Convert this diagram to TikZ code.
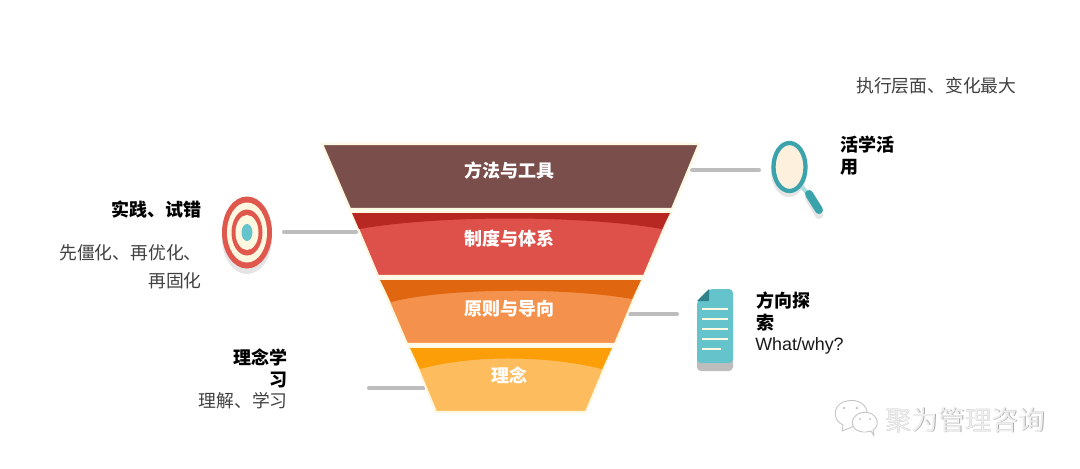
\documentclass[tikz,border=0pt]{standalone}
\usepackage{fontspec}
\setmainfont{Noto Sans CJK SC}
\newfontfamily\latinfont{Liberation Sans}
\newcommand{\pxfont}[2]{\fontsize{#1}{#2}\selectfont}
\definecolor{cream}{HTML}{FFF8E1}
\definecolor{brownL}{HTML}{7A4E4B}
\definecolor{redD}{HTML}{B82823}
\definecolor{redL}{HTML}{DE514A}
\definecolor{orgD}{HTML}{E0670F}
\definecolor{orgL}{HTML}{F4924D}
\definecolor{ambD}{HTML}{FB9E08}
\definecolor{ambL}{HTML}{FDBD5E}
\definecolor{connGrey}{HTML}{BDBDBD}
\definecolor{shadowGrey}{HTML}{E4E4E4}
\definecolor{teal}{HTML}{3BA3AB}
\definecolor{tealL}{HTML}{65C3CB}
\definecolor{tealP}{HTML}{A8DEE0}
\definecolor{lensFill}{HTML}{FDF0DC}
\definecolor{targetRed}{HTML}{E0574E}
\definecolor{bodyGrey}{HTML}{404040}
\tikzset{
  x=0.75pt,y=-0.75pt,
  layerEdge/.style={draw=cream,line width=1.6pt,line join=miter},
  link/.style={draw=connGrey,line width=3pt,line cap=round},
  inLabel/.style={text=white,font=\bfseries\pxfont{13.5}{16},inner sep=0pt},
  headR/.style={text=black,font=\bfseries\pxfont{13.5}{16.5},align=right,inner sep=0pt},
  headL/.style={text=black,font=\bfseries\pxfont{13.5}{16.5},align=left,inner sep=0pt},
  bodyT/.style={text=bodyGrey,font=\pxfont{13.35}{16.5},inner sep=0pt},
  docLine/.style={draw=cream,line width=2pt},
  bubble/.style={draw=black!22,line width=0.7pt,fill=white,line join=round},
  mark1/.style={text=black!32,font=\pxfont{20}{24},inner sep=0pt},
  mark2/.style={text=black!7,font=\pxfont{20}{24},inner sep=0pt},
}
\begin{document}
\begin{tikzpicture}
\useasboundingbox (0,0) rectangle (1080,468);
\fill[white] (0,0) rectangle (1080,468);

% connectors
\coordinate (c1a) at (692,170); \coordinate (c1b) at (759,170);
\coordinate (c2a) at (284,232); \coordinate (c2b) at (356,232);
\coordinate (c3a) at (630,314); \coordinate (c3b) at (677,314);
\coordinate (c4a) at (369,388); \coordinate (c4b) at (424,388);
\draw[link] (c1a) -- (c1b);
\draw[link] (c2a) -- (c2b);
\draw[link] (c3a) -- (c3b);
\draw[link] (c4a) -- (c4b);

% funnel
\draw[layerEdge,fill=brownL] (322,144) -- (699,144) -- (672,209) -- (350,209) -- cycle;

\draw[layerEdge,fill=redL] (351,212) -- (671,212) -- (644,276) -- (378,276) -- cycle;
\fill[redD] (352,213) -- (670,213) -- (662,229) .. controls (580,215) and (440,215) .. (359,229) -- cycle;

\draw[layerEdge,fill=orgL] (379,279) -- (642,279) -- (615,344) -- (407,344) -- cycle;
\fill[orgD] (380,280) -- (641,280) -- (632,299) .. controls (570,288) and (450,287) .. (391,302) -- cycle;

\draw[layerEdge,fill=ambL] (409,347) -- (613,347) -- (586,412) -- (436,412) -- cycle;
\fill[ambD] (410,348) -- (612,348) -- (602,369) .. controls (550,356) and (475,354) .. (420,369) -- cycle;

\node[inLabel] (t1) at (509,171) {方法与工具};
\node[inLabel] (t2) at (509,239) {制度与体系};
\node[inLabel] (t3) at (509,309) {原则与导向};
\node[inLabel] (t4) at (509,375) {理念};

% target
\fill[shadowGrey] (247,238) ellipse [x radius=25,y radius=36];
\fill[targetRed] (247,232.5) ellipse [x radius=25,y radius=36];
\fill[cream] (247,232.5) ellipse [x radius=20,y radius=30];
\fill[targetRed] (247,232.5) ellipse [x radius=15.5,y radius=23];
\fill[cream] (247,232.5) ellipse [x radius=11.5,y radius=17.5];
\fill[tealL] (247,232.5) ellipse [x radius=5.5,y radius=8.5];

% magnifier
\fill[shadowGrey] (789,171) ellipse [x radius=18,y radius=26];
\draw[shadowGrey,line width=6pt,line cap=round] (809,198) -- (819,215);
\draw[tealP,line width=3pt] (802,187) -- (808,194);
\draw[teal,line width=6pt,line cap=round] (809,194) -- (819,210);
\draw[teal,line width=3.2pt,fill=lensFill] (789.5,167) ellipse [x radius=16,y radius=24];

% document
\fill[connGrey,rounded corners=3pt] (697,320) rectangle (733,371);
\fill[tealL,rounded corners=3pt] (709,289) -- (733,289) -- (733,363) -- (697,363) -- (697,301) -- cycle;
\fill[teal!80!black] (697,301) -- (709,289) -- (709,301) -- cycle;
\draw[docLine] (702,309) -- (728,309);
\draw[docLine] (702,319) -- (728,319);
\draw[docLine] (702,329) -- (728,329);
\draw[docLine] (702,339) -- (728,339);
\draw[docLine] (702,349) -- (721,349);

% side texts
\node[bodyT,anchor=west] (top) at (856,86) {执行层面、变化最大};
\node[headL,anchor=north west] (h1) at (840,136) {活学活\\用};
\node[headR,anchor=east] (h2) at (202,209.5) {实践、试错};
\node[bodyT,anchor=north east,align=right,font=\pxfont{13.35}{21}] (b2) at (202,244.5) {先僵化、再优化、\\再固化};
\node[headL,anchor=north west] (h3) at (756,292) {方向探\\索};
\node[anchor=west,inner sep=0pt,text=black!90,font=\latinfont\pxfont{13.4}{16}] (b3) at (755,346) {What/why?};
\node[headR,anchor=north east] (h4) at (288,349) {理念学\\习};
\node[bodyT,anchor=east] (b4) at (288,401) {理解、学习};

% watermark
\draw[bubble] (842,431) -- (843,425) .. controls (831,420) and (832,401) .. (851,400.5)
  .. controls (862,400) and (869,408) .. (867,418) -- (852,427) -- cycle;
\fill[black!22] (844,408) circle (1.4) (857,408) circle (1.4);
\draw[bubble] (874,436) -- (871,431) .. controls (858,435) and (851,427) .. (852.5,421)
  .. controls (855,410) and (873,409) .. (877,420) .. controls (878,425) and (876,428) .. (873,430) -- cycle;
\fill[black!22] (860,419) circle (1.1) (870,419) circle (1.1);
\node[mark1,anchor=west] (wm0) at (885.6,420.6) {聚为管理咨询};
\node[mark2,anchor=west] (wm) at (885,420) {聚为管理咨询};
\end{tikzpicture}
\end{document}
